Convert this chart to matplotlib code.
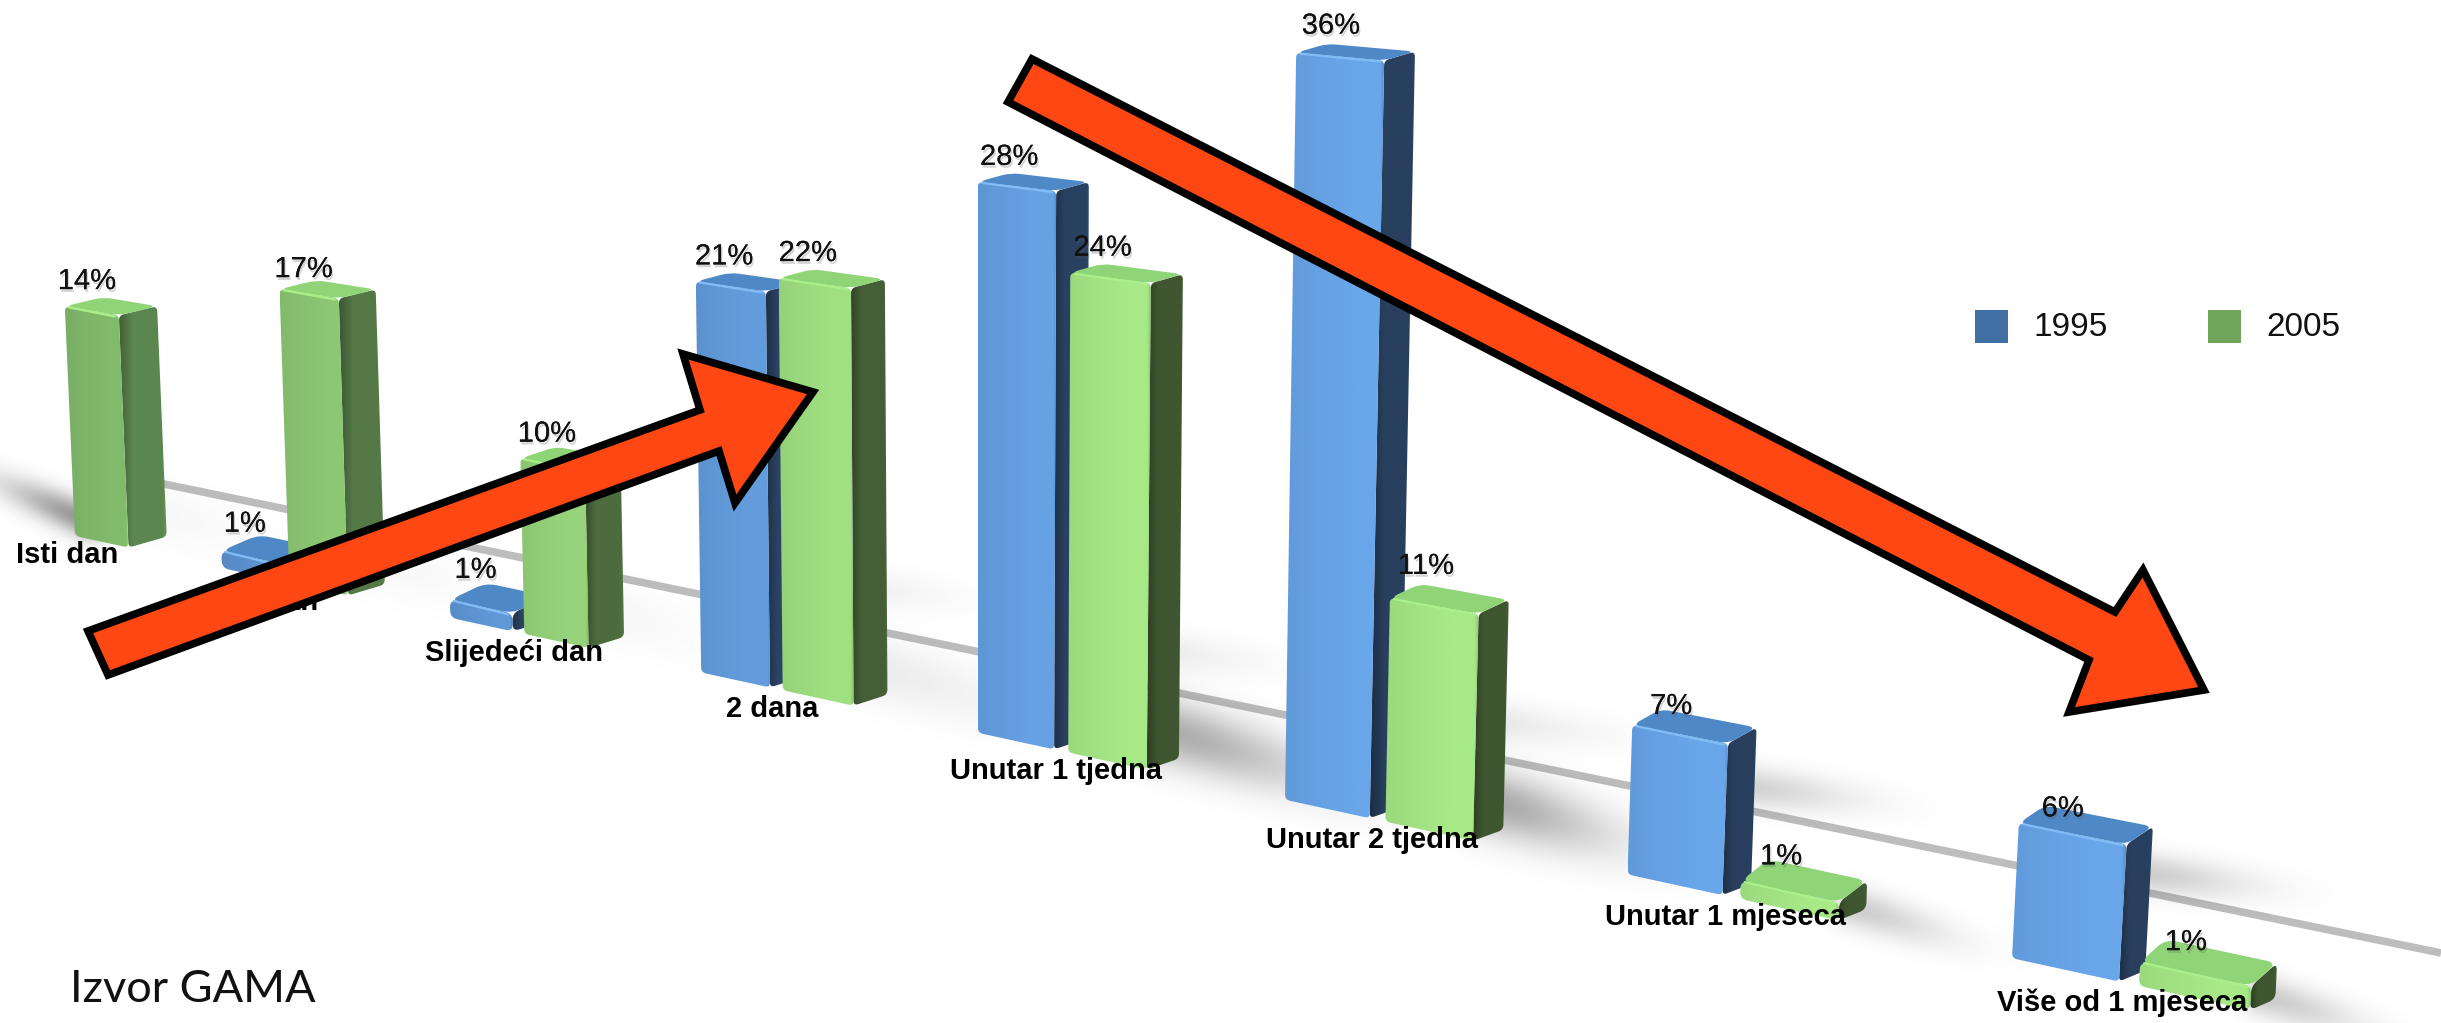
import numpy as np
import matplotlib
matplotlib.use('Agg')
import matplotlib.pyplot as plt
from matplotlib.colors import to_rgb
from matplotlib.patches import PathPatch, Polygon, Rectangle
from matplotlib.path import Path
import matplotlib.patheffects as pe

categories = ['Isti dan', '1 dan', 'Slijedeći dan', '2 dana', 'Unutar 1 tjedna',
              'Unutar 2 tjedna', 'Unutar 1 mjeseca', 'Više od 1 mjeseca']
# the printed labels are these rounded
values_1995 = [0, 1, 1, 20.9, 28, 36, 6.8, 5.8]
values_2005 = [13.9, 17, 9.7, 21.7, 24, 10.6, 0.8, 1]
series_names = ['1995', '2005']

W, H = 2441, 1023
plt.rcParams['font.family'] = ['Liberation Sans', 'DejaVu Sans']

fig = plt.figure(figsize=(W / 100, H / 100), dpi=100)
ax = fig.add_axes([0, 0, 1, 1])
ax.set_axis_off()


# perspective of the floor: category position -> pixel
def depth(u):
    return 1 - 0.04289 * u


def floor_x(u):
    return (13.2 + 199.25 * u) / depth(u)


def floor_y(x):
    return 519.6 + 0.218 * x


def value_scale(u):
    return 16.3 / depth(u)


def lean(x, h):
    return x + (x - 980) / 20500 * h


def rounded(pts, r):
    # closed polygon with soft corners
    pts = np.array(pts, float)
    n = len(pts)
    verts, codes = [], []
    for i in range(n):
        p0, p1, p2 = pts[i - 1], pts[i], pts[(i + 1) % n]
        a = p1 + (p0 - p1) * min(r / np.linalg.norm(p0 - p1), 0.45)
        b = p1 + (p2 - p1) * min(r / np.linalg.norm(p2 - p1), 0.45)
        verts += [a, p1, b]
        codes += [Path.MOVETO if i == 0 else Path.LINETO, Path.CURVE3, Path.CURVE3]
    verts.append(verts[0])
    codes.append(Path.CLOSEPOLY)
    return Path(verts, codes)


def mix(c1, c2, t):
    return np.array(to_rgb(c1)) * (1 - t) + np.array(to_rgb(c2)) * t


def gradient_face(pts, stops, z, r=6):
    pts = np.array(pts)
    x0, x1 = pts[:, 0].min(), pts[:, 0].max()
    y0, y1 = pts[:, 1].min(), pts[:, 1].max()
    pos = np.linspace(0, 1, 80)
    img = np.stack([np.interp(pos, [s[0] for s in stops], [s[1][k] for s in stops])
                    for k in range(3)], axis=-1)[None, :, :]
    img = np.clip(img, 0, 1)
    im = ax.imshow(img, extent=(x0, x1, y1, y0), aspect='auto', zorder=z,
                   interpolation='bilinear')
    patch = PathPatch(rounded(pts, r), transform=ax.transData, fc='none', ec='none', zorder=z)
    ax.add_patch(patch)
    im.set_clip_path(patch)


def draw_bar(u0, value, palette, z):
    u1 = u0 + 0.258
    xl, xr = floor_x(u0), floor_x(u1)
    yl, yr = floor_y(xl), floor_y(xr)
    hl, hr = value * value_scale(u0), value * value_scale(u1)
    fl_top = (lean(xl, hl), yl - hl)
    fr_top = (lean(xr, hr), yr - hr)

    dx = 39 - 0.006 * xr
    dy_top = -(9 + 0.016 * max(0, fr_top[1] - 300))
    if value < 2:
        dy_top -= 3
    dy_floor = -11
    sr_top = (fr_top[0] + dx, fr_top[1] + dy_top)
    back = (fl_top[0] + dx, fl_top[1] + dy_top)
    sr_bot = (xr + dx, yr + dy_floor)

    t = np.clip(u0 / palette['ramp'], 0, 1)
    front = mix(palette['front0'], palette['front1'], t)
    side = mix(palette['side0'], palette['side1'], t)
    top = to_rgb(palette['top'])
    edge = to_rgb(palette['edge'])
    r = 5 if value > 2 else 7
    # the far left bars have a bright corner, the others a dark one
    corner = 1.2 if u0 < 1.5 else 0.85

    gradient_face([sr_bot, (xr, yr), fr_top, sr_top],
                  [(0, side * 0.72), (0.3, side), (0.9, side), (1, side * 1.1)], z, r)
    gradient_face([(xl, yl), (xr, yr), fr_top, fl_top],
                  [(0, front * 0.93), (0.25, front * 0.96), (0.7, front), (0.96, front),
                   (1, front * corner)], z + 0.1, r)
    ax.add_patch(PathPatch(rounded([fl_top, fr_top, sr_top, back], r + 4),
                           fc=top, ec='none', zorder=z + 0.2))
    ax.plot([fl_top[0] + 4, fr_top[0] - 4], [fl_top[1] + 1, fr_top[1] + 1], color=edge,
            lw=1.6, zorder=z + 0.3, solid_capstyle='round')
    return fl_top, back, xl, xr


blue = {'front0': '#5a8ecb', 'front1': '#69a6ea', 'side0': '#30496e', 'side1': '#283f5e',
        'top': '#4f88c7', 'edge': '#80bdf7', 'ramp': 5}
green = {'front0': '#7fb76a', 'front1': '#a7e987', 'side0': '#5f8a52', 'side1': '#3f5630',
         'top': '#90d478', 'edge': '#aaf08a', 'ramp': 4}

ax.plot([130, W], [477, 953], color='#bdbdbd', lw=5.5, zorder=1, solid_capstyle='butt')

# soft floor shadows
yy, xx = np.mgrid[0:H, 0:W]
keep = np.ones((H, W))


def add_shadow(px, py, slope, direction, strength, length, width):
    global keep
    norm = np.hypot(1, slope)
    t = ((xx - px) + (yy - py) * slope) / norm * direction
    n = (-(xx - px) * slope + (yy - py)) / norm
    a = strength * np.exp(-(n / width) ** 2) * np.exp(-(np.clip(t, 0, None) / length) ** 2)
    a = a * np.clip(t / 30 + 1, 0, 1)
    keep = keep * (1 - a)


bars = []
label_dy = [-16, -11, -13, -16, -16, -18, -3, 3]
z = 3
for i in range(len(categories)):
    for val, off, pal in [(values_1995[i], 0, blue), (values_2005[i], 0.305, green)]:
        if val == 0:
            continue
        xr = floor_x(i + off + 0.258)
        u = i + off
        if pal is green:
            strength = np.clip(0.25 * (u - 3), 0.03, 0.34) * min(1, 0.5 + val / 10)
            add_shadow(xr + 12, floor_y(xr) - 12 - min(30, 3 * val), 0.31, 1, strength,
                       95 + 3 * val, 32 if val > 3 else 20)
        elif val > 3:
            add_shadow(xr + 15, floor_y(xr) - 110, 0.12, 1, np.clip(0.03 * u, 0, 0.2),
                       100 + 2 * val, 20)
        bars.append((i, off, val, pal, z))
        z += 1
# smear left of the first bar
add_shadow(90, 522, 0.44, -1, 0.42, 90, 17)

shadow = np.zeros((H, W, 4))
shadow[..., 3] = 1 - keep
ax.imshow(shadow, extent=(0, W, H, 0), aspect='auto', zorder=2)

for i, off, val, pal, z in bars:
    fl_top, back, xl, xr = draw_bar(i + off, val, pal, z)
    tx = fl_top[0] + 0.41 * (xr - xl)
    ax.text(tx, back[1] + label_dy[i], '%d%%' % round(val), ha='center', va='center', fontsize=21,
            color='#111111', zorder=30,
            path_effects=[pe.withSimplePatchShadow(offset=(1, -2), shadow_rgbFace='#555555', alpha=0.25),
                          pe.Normal()])

for i, name in enumerate(categories):
    x = floor_x(i + 0.265)
    ax.text(x, floor_y(x) + 21, name, ha='center', va='center', fontsize=21, fontweight='bold',
            color='black', zorder=31)

# legend
for x0, col, name in [(1975, '#3f6fa3', series_names[0]), (2208, '#70a55c', series_names[1])]:
    ax.add_patch(Rectangle((x0, 310), 33, 33, fc=col, ec='none', zorder=31))
    ax.text(x0 + 58, 327, name, ha='left', va='center', fontsize=24, color='#111111', zorder=31)

ax.text(70, 1002, 'Izvor GAMA', ha='left', va='baseline', fontsize=32.5, family=['Lato', 'DejaVu Sans'],
        color='#111111', zorder=31)

# the two big arrows
arrow_up = [(88, 631), (700, 410), (683, 354), (813, 392), (735, 503), (719, 451), (108, 675)]
arrow_down = [(1032, 59), (2115, 612), (2143, 570), (2204, 690), (2069, 712), (2089, 660), (1008, 102)]
for pts in [arrow_up, arrow_down]:
    ax.add_patch(Polygon(pts, closed=True, fc='#ff4713', ec='black', lw=5.5, joinstyle='miter', zorder=40))

ax.set_xlim(0, W)
ax.set_ylim(H, 0)
fig.savefig('out.png', dpi=100)
